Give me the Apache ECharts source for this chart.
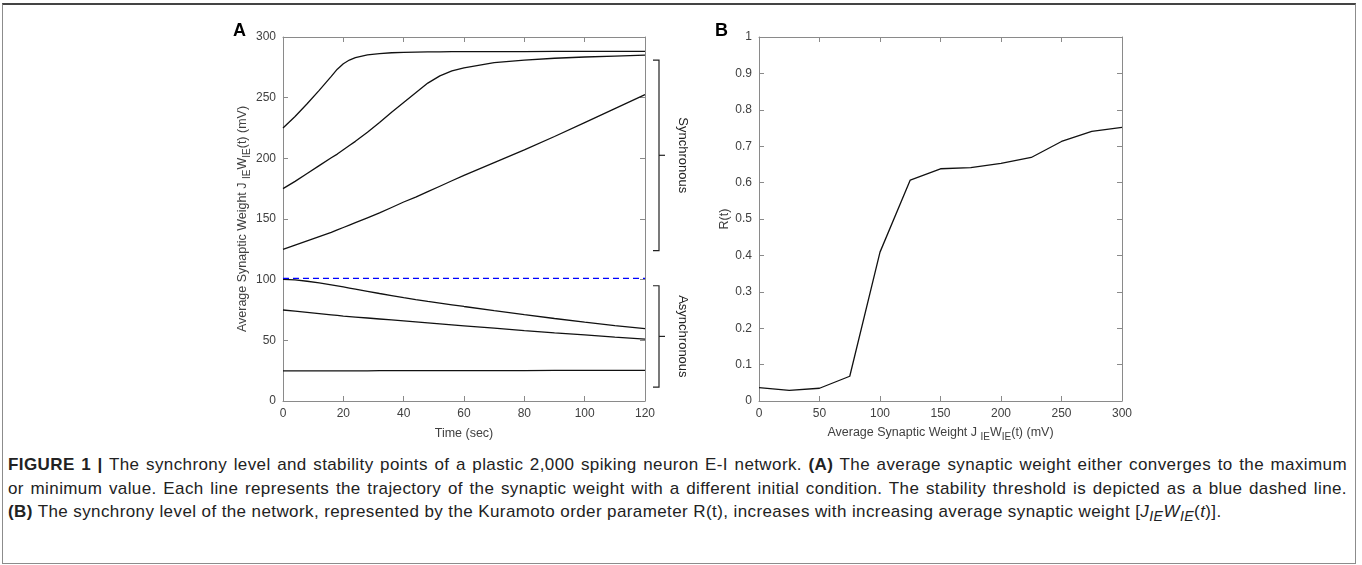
<!DOCTYPE html>
<html>
<head>
<meta charset="utf-8">
<script src="https://cdn.jsdelivr.net/npm/echarts@6/dist/echarts.min.js"></script>
<style>
  html, body { margin: 0; padding: 0; background: #fff; }
  #frame { position: absolute; left: 2px; top: 3px; width: 1352px; height: 558px;
    border: 1px solid #8c8c8c; border-top: 2px solid #444; }
  #chart { position: absolute; left: 0; top: 0; width: 1362px; height: 450px; }
  #caption { position: absolute; left: 8px; top: 453px; width: 1339px;
    font-family: 'Liberation Sans', Arial, sans-serif;
    font-size: 17px; letter-spacing: 0.4px; color: #222; line-height: 23.5px; }
  #caption .ln { white-space: nowrap; text-align: justify; text-align-last: justify; }
  #caption .last { text-align: left; text-align-last: left; }
</style>
</head>
<body>
<div id="frame"></div>
<div id="chart"></div>
<div id="caption">
  <div class="ln"><b>FIGURE 1 |</b> The synchrony level and stability points of a plastic 2,000 spiking neuron E-I network. <b>(A)</b> The average synaptic weight either converges to the maximum</div>
  <div class="ln">or minimum value. Each line represents the trajectory of the synaptic weight with a different initial condition. The stability threshold is depicted as a blue dashed line.</div>
  <div class="ln last"><b>(B)</b> The synchrony level of the network, represented by the Kuramoto order parameter R(t), increases with increasing average synaptic weight [<i>J<sub>IE</sub>W<sub>IE</sub></i>(<i>t</i>)].</div>
</div>
<script>
// panel A: weight trajectories over time (sec)
var time = [0, 4, 8, 12, 16, 18, 20, 22, 24, 28, 32, 36, 40, 44, 48, 52, 56, 60, 70, 80, 90, 100, 110, 120];
var w225 = [225, 234.5, 245, 256, 267.5, 273.5, 278, 281, 283, 285.2, 286.3, 287, 287.4, 287.6, 287.7, 287.8, 287.9, 288, 288, 288, 288.1, 288.1, 288.2, 288.2];
var w175 = [175, 181, 187.5, 194, 200.5, 203.5, 207, 210.5, 214, 221.5, 229.5, 238, 246, 254, 262, 268, 272, 274.5, 278.8, 281, 282.5, 283.5, 284.3, 285];
var w125 = [125, 128.5, 132, 135.5, 139, 141, 143, 145, 147, 151, 155, 159.5, 164, 168, 172.5, 177, 181.5, 186, 196.5, 207, 218, 229.5, 241, 252.5];
var w100 = [100.3, 99.8, 98.7, 97.3, 95.7, 94.9, 94, 93.1, 92.2, 90.4, 88.6, 86.9, 85.2, 83.6, 82.1, 80.7, 79.3, 77.9, 74.5, 71.2, 68, 65, 62.2, 59.6];
var w75 = [75, 74, 73, 72, 71, 70.5, 70, 69.6, 69.2, 68.4, 67.6, 66.8, 66, 65.2, 64.4, 63.6, 62.8, 62, 60, 58, 56.2, 54.5, 52.7, 51];
var w25 = [24.8, 24.8, 24.8, 24.8, 24.9, 24.9, 24.9, 24.9, 24.9, 24.9, 25, 25, 25, 25, 25, 25, 25, 25, 25.1, 25.1, 25.2, 25.2, 25.3, 25.3];
var threshold = 101;
var bracketNames = ['Synchronous', 'Asynchronous'];
var bracketRanges = [[124, 281], [11.5, 95]];

// panel B: order parameter vs weight
var weight = [0, 25, 50, 75, 100, 125, 150, 175, 200, 225, 250, 275, 300];
var rOrder = [0.037, 0.029, 0.035, 0.068, 0.409, 0.607, 0.638, 0.641, 0.653, 0.669, 0.713, 0.741, 0.752];

var font = 'Liberation Sans, Arial, sans-serif';
var axisGray = '#8a8a8a';
var textGray = '#404040';

function pairs(xs, ys) {
  return xs.map(function (x, i) { return [x, ys[i]] });
}

function mkAxis(opts, labels) {
  return Object.assign({
    type: 'value',
    axisLine: { show: true, onZero: false, lineStyle: { color: axisGray, width: 1 } },
    axisTick: { show: true, inside: true, length: 5, lineStyle: { color: axisGray } },
    axisLabel: { show: labels, color: textGray, fontSize: 12, fontFamily: font, margin: 7 },
    splitLine: { show: false }
  }, opts);
}

var weightName = '{a|Average Synaptic Weight J }{s|IE}{a|W}{s|IE}{a|(t) (mV)}';
var richName = {
  a: { fontSize: 12.5, fontFamily: font, color: textGray, lineHeight: 14 },
  s: { fontSize: 10, fontFamily: font, color: textGray, padding: [9, 0, 0, 0], verticalAlign: 'bottom' }
};

var chart = echarts.init(document.getElementById('chart'));

function lineOf(data) {
  return {
    type: 'line', xAxisIndex: 0, yAxisIndex: 0,
    data: data, showSymbol: false,
    lineStyle: { color: '#111', width: 1.3 }
  };
}

chart.setOption({
  animation: false,
  grid: [
    { left: 283, top: 37, width: 362, height: 364 },
    { left: 759, top: 37, width: 363, height: 364 }
  ],
  graphic: [
    { type: 'text', left: 233, top: 22, style: { text: 'A', font: 'bold 18px ' + font, fill: '#000' } },
    { type: 'text', left: 715, top: 22, style: { text: 'B', font: 'bold 18px ' + font, fill: '#000' } }
  ],
  xAxis: [
    mkAxis({ gridIndex: 0, min: 0, max: 120, interval: 20, position: 'bottom',
      name: 'Time (sec)', nameLocation: 'middle', nameGap: 26,
      nameTextStyle: { fontSize: 12.5, fontFamily: font, color: textGray } }, true),
    mkAxis({ gridIndex: 0, min: 0, max: 120, interval: 20, position: 'top' }, false),
    mkAxis({ gridIndex: 1, min: 0, max: 300, interval: 50, position: 'bottom',
      name: weightName, nameLocation: 'middle', nameGap: 22,
      nameTextStyle: { rich: richName } }, true),
    mkAxis({ gridIndex: 1, min: 0, max: 300, interval: 50, position: 'top' }, false)
  ],
  yAxis: [
    mkAxis({ gridIndex: 0, min: 0, max: 300, interval: 50, position: 'left',
      name: weightName, nameLocation: 'middle', nameGap: 28,
      nameTextStyle: { rich: richName } }, true),
    mkAxis({ gridIndex: 0, min: 0, max: 300, interval: 50, position: 'right' }, false),
    mkAxis({ gridIndex: 1, min: 0, max: 1, interval: 0.1, position: 'left',
      name: 'R(t)', nameLocation: 'middle', nameGap: 24,
      nameTextStyle: { fontSize: 12.5, fontFamily: font, color: textGray } }, true),
    mkAxis({ gridIndex: 1, min: 0, max: 1, interval: 0.1, position: 'right' }, false)
  ],
  series: [
    lineOf(pairs(time, w225)),
    lineOf(pairs(time, w175)),
    lineOf(pairs(time, w125)),
    lineOf(pairs(time, w100)),
    lineOf(pairs(time, w75)),
    lineOf(pairs(time, w25)),
    {
      type: 'line', xAxisIndex: 0, yAxisIndex: 0,
      data: [[0, threshold], [120, threshold]], showSymbol: false,
      lineStyle: { color: '#0000ff', width: 1.3, type: [6, 4] }
    },
    {
      type: 'custom', xAxisIndex: 0, yAxisIndex: 0,
      data: bracketRanges,
      renderItem: function (params, api) {
        var hi = api.coord([120, api.value(1)]);
        var lo = api.coord([120, api.value(0)]);
        var mid = (hi[1] + lo[1]) / 2;
        var x0 = hi[0] + 8, x1 = hi[0] + 14;
        return {
          type: 'group',
          children: [
            { type: 'polyline', shape: { points: [[x0, hi[1]], [x1, hi[1]], [x1, lo[1]], [x0, lo[1]]] },
              style: { stroke: '#222', fill: null, lineWidth: 1.2 } },
            { type: 'line', shape: { x1: x1, y1: mid, x2: x1 + 6, y2: mid },
              style: { stroke: '#222', lineWidth: 1.2 } },
            { type: 'text', x: x1 + 24, y: mid, rotation: -Math.PI / 2,
              style: { text: bracketNames[params.dataIndex], textAlign: 'center', textVerticalAlign: 'middle',
                fontSize: 13, fontFamily: font, fill: '#222' } }
          ]
        };
      }
    },
    {
      type: 'line', xAxisIndex: 2, yAxisIndex: 2,
      data: pairs(weight, rOrder), showSymbol: false,
      lineStyle: { color: '#111', width: 1.3 }
    }
  ]
});
</script>
</body>
</html>
